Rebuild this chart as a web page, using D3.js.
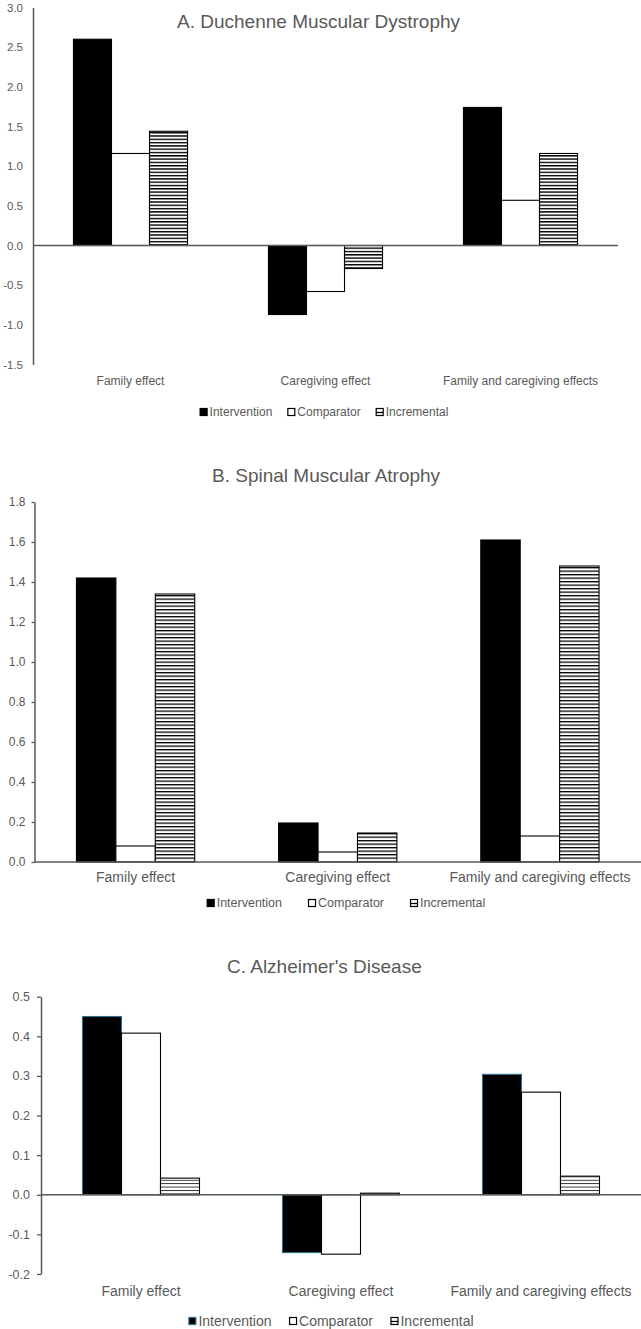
<!DOCTYPE html>
<html>
<head>
<meta charset="utf-8">
<script src="https://cdn.jsdelivr.net/npm/d3@7"></script>
<style>
  body { margin: 0; background: #fff; }
  svg text { font-family: "Liberation Sans", Arial, sans-serif; fill: #595959; }
</style>
</head>
<body>
<div class="chart-container"></div>
<script>
// shared categories & series names
const categories = ['Family effect', 'Caregiving effect', 'Family and caregiving effects'];
const seriesNames = ['Intervention', 'Comparator', 'Incremental'];

// A. Duchenne Muscular Dystrophy
const dmdIntervention = [2.60, -0.87, 1.74];
const dmdComparator = [1.16, -0.58, 0.57];
const dmdIncremental = [1.44, -0.29, 1.16];
const dmdTicks = [-1.5, -1.0, -0.5, 0.0, 0.5, 1.0, 1.5, 2.0, 2.5, 3.0];

// B. Spinal Muscular Atrophy
const smaIntervention = [1.42, 0.195, 1.61];
const smaComparator = [0.08, 0.05, 0.13];
const smaIncremental = [1.34, 0.145, 1.48];
const smaTicks = [0.0, 0.2, 0.4, 0.6, 0.8, 1.0, 1.2, 1.4, 1.6, 1.8];

// C. Alzheimer's Disease
const adIntervention = [0.45, -0.146, 0.304];
const adComparator = [0.408, -0.15, 0.259];
const adIncremental = [0.042, 0.004, 0.047];
const adTicks = [-0.2, -0.1, 0.0, 0.1, 0.2, 0.3, 0.4, 0.5];

const axisColor = '#595959';

// panel layouts
const panels = [
  {
    id: 'a', title: 'A. Duchenne Muscular Dystrophy', titleX: 177, titleY: 27.5,
    series: [dmdIntervention, dmdComparator, dmdIncremental], ticks: dmdTicks,
    left: 33, right: 618, top: 7.5, bottom: 364.5,
    tickSize: 0, tickPad: 10, tickFont: 11.5,
    labelY: 381, labelFont: 12,
    legendY: 412, legendX: 324, legendFont: 12, legendGap: 15,
    hatch: {period: 3.3, line: 1.4, color: '#000'},
    interventionStroke: '#000'
  },
  {
    id: 'b', title: 'B. Spinal Muscular Atrophy', titleX: 212, titleY: 482,
    series: [smaIntervention, smaComparator, smaIncremental], ticks: smaTicks,
    left: 34.5, right: 641, top: 502, bottom: 862,
    tickSize: 3, tickPad: 6, tickFont: 12,
    labelY: 877, labelFont: 14,
    legendY: 903, legendX: 346, legendFont: 12.5, legendGap: 26,
    hatch: {period: 3.5, line: 1.3, color: '#000'},
    interventionStroke: '#000'
  },
  {
    id: 'c', title: "C. Alzheimer's Disease", titleX: 227, titleY: 973,
    series: [adIntervention, adComparator, adIncremental], ticks: adTicks,
    left: 41, right: 641, top: 996.7, bottom: 1274,
    tickSize: 4, tickPad: 7, tickFont: 12.5,
    labelY: 1291, labelFont: 14,
    legendY: 1321, legendX: 331, legendFont: 14, legendGap: 17.5,
    hatch: {period: 3.4, line: 0.9, color: '#222'},
    interventionStroke: '#2f6f8f'
  }
];

const svg = d3.select('.chart-container')
  .append('svg')
  .attr('width', 641)
  .attr('height', 1329);

svg.append('rect').attr('width', 641).attr('height', 1329).attr('fill', '#fff');

const defs = svg.append('defs');

function fillFor(p, s) {
  if (s === 'Intervention') return '#000';
  if (s === 'Comparator') return '#fff';
  return `url(#hatch-${p.id})`;
}

function strokeFor(p, s) {
  return s === 'Intervention' ? p.interventionStroke : '#000';
}

function drawPanel(p) {
  // hatch pattern for the incremental bars
  const pat = defs.append('pattern')
    .attr('id', `hatch-${p.id}`)
    .attr('patternUnits', 'userSpaceOnUse')
    .attr('width', 4)
    .attr('height', p.hatch.period);
  pat.append('rect').attr('width', 4).attr('height', p.hatch.period).attr('fill', '#fff');
  pat.append('rect').attr('width', 4).attr('height', p.hatch.line).attr('fill', p.hatch.color);

  const g = svg.append('g').attr('class', `panel panel-${p.id}`);

  // title
  g.append('text')
    .attr('x', p.titleX)
    .attr('y', p.titleY)
    .style('font-size', '19px')
    .text(p.title);

  // scales
  const y = d3.scaleLinear()
    .domain(d3.extent(p.ticks))
    .range([p.bottom, p.top]);

  const x0 = d3.scaleBand()
    .domain(categories)
    .range([p.left, p.right])
    .paddingInner(0.415)
    .paddingOuter(0.2075);

  const x1 = d3.scaleBand()
    .domain(seriesNames)
    .range([0, x0.bandwidth()]);

  const rows = categories.map((c, i) => ({
    category: c,
    values: seriesNames.map((s, j) => ({series: s, value: p.series[j][i]}))
  }));

  // bars
  g.selectAll('.group')
    .data(rows)
    .join('g')
    .attr('class', 'group')
    .attr('transform', d => `translate(${x0(d.category)},0)`)
    .selectAll('rect')
    .data(d => d.values)
    .join('rect')
    .attr('x', d => x1(d.series))
    .attr('width', x1.bandwidth())
    .attr('y', d => y(Math.max(0, d.value)))
    .attr('height', d => Math.abs(y(d.value) - y(0)))
    .attr('fill', d => fillFor(p, d.series))
    .attr('stroke', d => strokeFor(p, d.series))
    .attr('stroke-width', 1.1);

  // y axis
  const yAxis = d3.axisLeft(y)
    .tickValues(p.ticks)
    .tickFormat(d => d.toFixed(1))
    .tickSizeInner(p.tickSize)
    .tickSizeOuter(0)
    .tickPadding(p.tickPad);

  const yG = g.append('g')
    .attr('transform', `translate(${p.left},0)`)
    .attr('color', axisColor)
    .call(yAxis);
  yG.select('.domain').attr('stroke-width', 1.5);
  yG.selectAll('line').attr('stroke-width', 1.3);
  yG.selectAll('text')
    .style('font-size', `${p.tickFont}px`)
    .style('font-family', '"Liberation Sans", Arial, sans-serif');

  // zero line
  g.append('line')
    .attr('x1', p.left)
    .attr('x2', p.right)
    .attr('y1', y(0))
    .attr('y2', y(0))
    .attr('stroke', axisColor)
    .attr('stroke-width', 1.5);

  // category labels
  const xG = g.append('g')
    .attr('transform', `translate(0,${p.labelY})`)
    .call(d3.axisBottom(x0).tickSize(0));
  xG.select('.domain').remove();
  xG.selectAll('text')
    .attr('y', 0)
    .attr('dy', '0.35em')
    .style('font-size', `${p.labelFont}px`)
    .style('font-family', '"Liberation Sans", Arial, sans-serif');

  // legend
  const sq = 8;
  const legend = g.append('g').attr('class', 'legend');
  let cursor = 0;
  seriesNames.forEach(s => {
    const item = legend.append('g').attr('transform', `translate(${cursor},0)`);
    item.append('rect')
      .attr('x', 0.5)
      .attr('y', -sq / 2 + 0.5)
      .attr('width', sq - 1)
      .attr('height', sq - 1)
      .attr('fill', s === 'Intervention' ? '#000' : '#fff')
      .attr('stroke', strokeFor(p, s))
      .attr('stroke-width', 1.2);
    if (s === 'Incremental') {
      item.append('line')
        .attr('x1', 0.5).attr('x2', sq - 0.5)
        .attr('y1', 0.5).attr('y2', 0.5)
        .attr('stroke', '#000')
        .attr('stroke-width', 1.3);
    }
    const t = item.append('text')
      .attr('x', sq + 2)
      .attr('y', 0)
      .attr('dy', '0.35em')
      .style('font-size', `${p.legendFont}px`)
      .text(s);
    cursor += sq + 2 + t.node().getComputedTextLength() + p.legendGap;
  });
  const legendW = cursor - p.legendGap;
  legend.attr('transform', `translate(${p.legendX - legendW / 2},${p.legendY})`);
}

panels.forEach(drawPanel);
</script>
</body>
</html>
